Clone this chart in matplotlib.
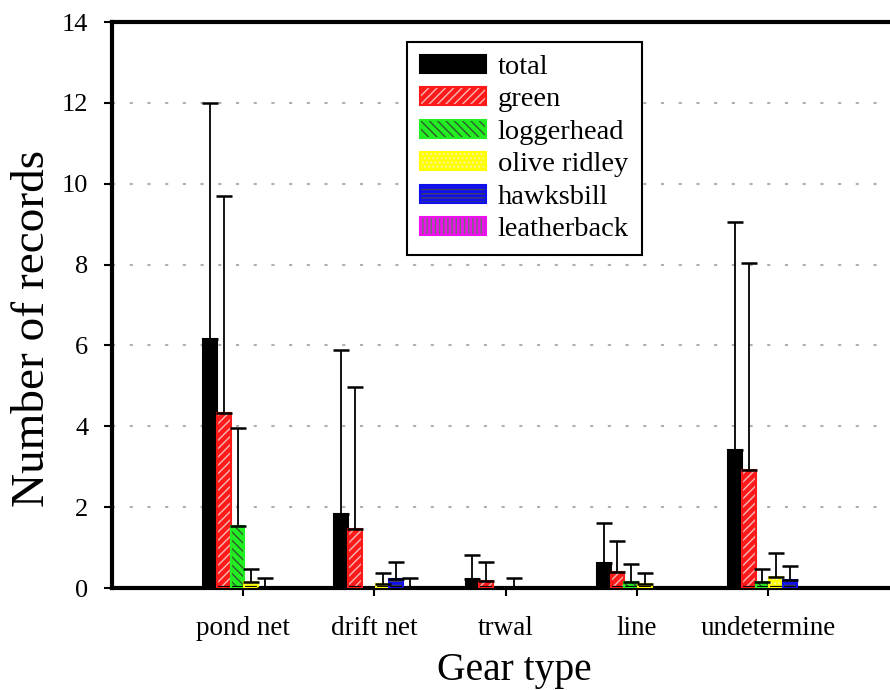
import numpy as np
import matplotlib
matplotlib.use('Agg')
import matplotlib.pyplot as plt
from matplotlib.patches import Patch

plt.rcParams['font.family'] = ['Liberation Serif', 'DejaVu Serif']
plt.rcParams['hatch.linewidth'] = 1.0

# categorias y especies
gears = ['pond net', 'drift net', 'trwal', 'line', 'undetermine']
species = ['total', 'green', 'loggerhead', 'olive ridley', 'hawksbill', 'leatherback']

# promedios por especie (un valor por arte de pesca)
total_mean = [6.15, 1.83, 0.22, 0.62, 3.41]
green_mean = [4.33, 1.46, 0.17, 0.40, 2.92]
logger_mean = [1.53, 0.0, 0.0, 0.15, 0.15]
olive_mean = [0.15, 0.10, 0.0, 0.10, 0.27]
hawks_mean = [0.0, 0.22, 0.0, 0.0, 0.20]
leather_mean = [0.0, 0.0, 0.0, 0.0, 0.0]

# desviaciones (solo barra superior), nan = sin barra de error
total_sd = [5.85, 4.06, 0.59, 0.99, 5.65]
green_sd = [5.37, 3.51, 0.48, 0.76, 5.12]
logger_sd = [2.43, np.nan, np.nan, 0.44, 0.32]
olive_sd = [0.32, 0.27, 0.25, 0.27, 0.60]
hawks_sd = [0.25, 0.42, np.nan, np.nan, 0.34]
leather_sd = [np.nan, 0.25, np.nan, np.nan, np.nan]

means = [total_mean, green_mean, logger_mean, olive_mean, hawks_mean, leather_mean]
sds = [total_sd, green_sd, logger_sd, olive_sd, hawks_sd, leather_sd]

# colores: relleno, color del rayado, patron
fills = ['black', '#ff1a1a', '#22ee22', '#ffff00', '#1010ee', '#ee10ee']
hatch_colors = ['black', '#f4b8b8', '#2f5a2f', '#f6f6a0', '#404060', '#707070']
hatches = [None, '////', '\\\\\\\\', '....', '----', '||||']

fig = plt.figure(figsize=(8.9, 6.9), dpi=100)
ax = fig.add_axes([0.1258, 0.1478, 0.8742, 0.8203])

x = np.arange(1, len(gears) + 1)
w = 0.105
handles = []
for i in range(len(species)):
  pos = x + (i - 2.5) * w + 0.01
  m = np.array(means[i])
  nz = m > 0
  ax.bar(pos[nz], m[nz], w, color=fills[i], edgecolor=hatch_colors[i], hatch=hatches[i],
         linewidth=0, zorder=2)
  ax.bar(pos[nz], m[nz], w, fill=False, edgecolor=fills[i], linewidth=1.5, zorder=3)
  sd = np.array(sds[i])
  ok = ~np.isnan(sd)
  ax.errorbar(pos[ok], m[ok], yerr=[np.zeros(ok.sum()), sd[ok]], fmt='none',
              ecolor='black', elinewidth=1.3, capsize=6, capthick=1.8, zorder=4)
  p1 = Patch(facecolor=fills[i], edgecolor=hatch_colors[i], hatch=hatches[i], linewidth=0)
  p2 = Patch(fill=False, edgecolor=fills[i], linewidth=1.5)
  handles.append((p1, p2))

ax.set_xlim(0, 5.93)
ax.set_ylim(0, 14)
ax.set_yticks(np.arange(0, 15, 2))
ax.set_xticks(x)
ax.set_xticklabels(gears)
ax.tick_params(axis='y', direction='out', length=6, width=1.5, labelsize=19, pad=11)
ax.tick_params(axis='x', direction='out', length=6, width=1.5, labelsize=19.5, pad=14)

for s in ['left', 'top', 'bottom']:
  ax.spines[s].set_linewidth(3)
ax.spines['right'].set_visible(False)

for yv in range(2, 14, 2):
  ax.axhline(yv, color='#b0b0b0', linewidth=1.5, linestyle=(0, (1.5, 7)), zorder=1)

ax.set_ylabel('Number of records', fontsize=34)
ax.yaxis.set_label_coords(-0.074, 0.459)
ax.set_xlabel('Gear type', fontsize=28.5)
ax.xaxis.set_label_coords(0.517, -0.113)

leg = ax.legend(handles, species, loc='upper left', bbox_to_anchor=(0.457, 0.939),
                bbox_transform=fig.transFigure, borderaxespad=0, fontsize=20.5,
                fancybox=False, framealpha=1, edgecolor='black',
                handlelength=2.35, handleheight=0.6, handletextpad=0.4,
                labelspacing=0.26, borderpad=0.45)
leg.get_frame().set_linewidth(1.5)

plt.savefig('out.png', dpi=100)
